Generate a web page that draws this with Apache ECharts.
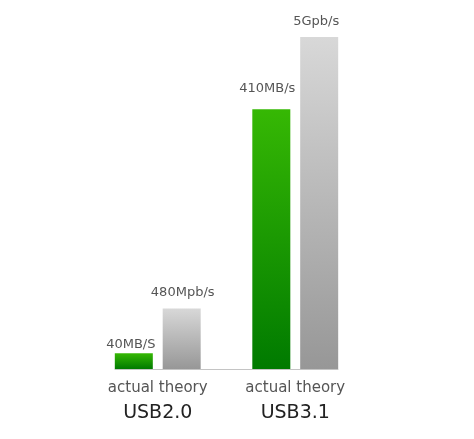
<!DOCTYPE html>
<html>
<head>
<meta charset="utf-8">
<script src="https://cdn.jsdelivr.net/npm/echarts@6/dist/echarts.min.js"></script>
<style>
    html, body { margin: 0; padding: 0; background: #fff; }
    #main { width: 474px; height: 439px; }
</style>
</head>
<body>
<div id="main"></div>
<script>
var categories = ["USB2.0", "USB3.1"];
var seriesNames = ["actual", "theory"];
// bar heights (relative scale, max 400)
var actualValues = [19, 313];
var theoryValues = [73, 400];
var actualLabels = ["40MB/S", "410MB/s"];
var theoryLabels = ["480Mpb/s", "5Gpb/s"];
// the value labels are not placed evenly in the original
var actualLabelShift = [[-3, 7], [-4, -5]];
var theoryLabelShift = [[1, 0], [-3, 0]];

var fontName = "'DejaVu Sans', sans-serif";

function gradient(top, bottom) {
    return new echarts.graphic.LinearGradient(0, 0, 0, 1, [
        { offset: 0, color: top },
        { offset: 1, color: bottom }
    ]);
}

function barData(values, texts, shifts) {
    return values.map(function (v, i) {
        return {
            value: v,
            label: {
                offset: shifts[i],
                formatter: texts[i]
            }
        };
    });
}

var topLabel = {
    show: true,
    position: "top",
    distance: 9,
    color: "#555",
    fontSize: 13,
    fontFamily: fontName
};

var option = {
    animation: false,
    grid: [
        { left: 89, right: 110, top: 37, bottom: 70 },
        // only carries the base line, which is shorter than the bar grid
        { left: 115, right: 136, top: 37, bottom: 70 }
    ],
    xAxis: [
        {
            type: "category",
            gridIndex: 0,
            data: categories,
            axisLine: { show: false },
            axisTick: { show: false },
            axisLabel: {
                interval: 0,
                hideOverlap: false,
                margin: 9,
                fontFamily: fontName,
                formatter: function (v) {
                    return "{a|" + seriesNames.join(" ") + "}\n{b|" + v + "}";
                },
                rich: {
                    a: { fontSize: 15, color: "#555", lineHeight: 21, fontFamily: fontName },
                    b: { fontSize: 19, color: "#222", lineHeight: 29, fontFamily: fontName }
                }
            }
        },
        {
            type: "category",
            gridIndex: 1,
            data: categories,
            axisLine: { show: true, lineStyle: { color: "#c4c4c4", width: 1 } },
            axisTick: { show: false },
            axisLabel: { show: false }
        }
    ],
    yAxis: [
        { type: "value", gridIndex: 0, min: 0, max: 400, show: false },
        { type: "value", gridIndex: 1, min: 0, max: 400, show: false }
    ],
    series: [
        {
            name: seriesNames[0],
            type: "bar",
            data: barData(actualValues, actualLabels, actualLabelShift),
            barWidth: 38,
            barGap: "26%",
            itemStyle: { color: gradient("#36b804", "#007a00") },
            label: topLabel
        },
        {
            name: seriesNames[1],
            type: "bar",
            data: barData(theoryValues, theoryLabels, theoryLabelShift),
            barWidth: 38,
            barGap: "26%",
            itemStyle: { color: gradient("#d8d8d8", "#979797") },
            label: topLabel
        }
    ]
};

echarts.init(document.getElementById("main")).setOption(option);
</script>
</body>
</html>
